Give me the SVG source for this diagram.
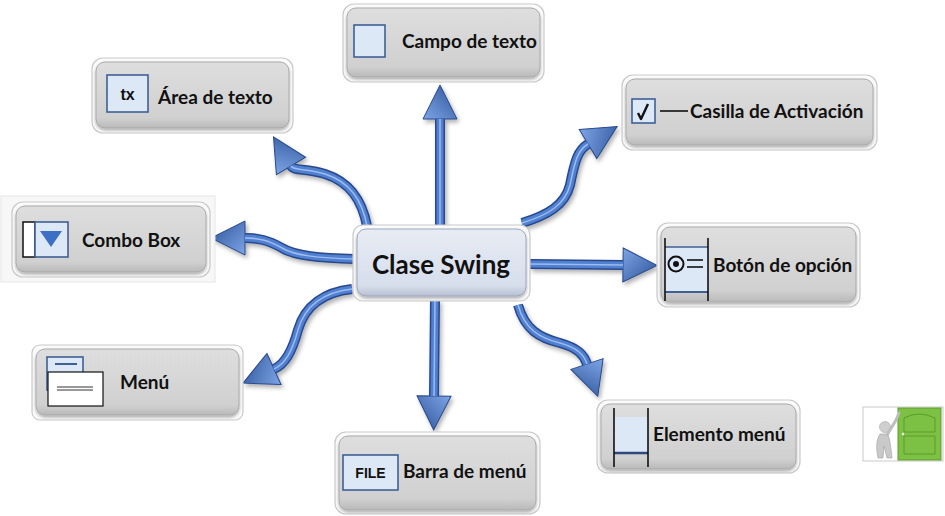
<svg xmlns="http://www.w3.org/2000/svg" xmlns:xlink="http://www.w3.org/1999/xlink" width="945" height="516" viewBox="0 0 945 516">
  <style>
    .frame { fill: #fbfbfb; stroke: #c9c9c9; stroke-width: 1.2; }
    .card { fill: url(#cardGrad); stroke: #a9a9a9; stroke-width: 1; filter: url(#soft); }
    .hub { fill: url(#hubGrad); stroke: #9aa6bb; stroke-width: 1; filter: url(#soft); }
    .label { font-family: Lato, "Open Sans", "Liberation Sans", sans-serif; font-weight: 700; font-size: 19px; fill: #111; }
    .hubLabel { font-family: Lato, "Open Sans", "Liberation Sans", sans-serif; font-weight: 700; font-size: 26px; fill: #111; }
    .ico { fill: #dde8f7; stroke: #3f5f96; stroke-width: 1.6; }
    .icoTxt { font-family: "Liberation Sans", Arial, sans-serif; font-weight: 700; fill: #111; }
    .bar { stroke: #111; stroke-width: 1.6; }
    .edgeOut { fill: none; stroke: #29488a; stroke-width: 10; stroke-linecap: butt; }
    .edgeIn { fill: none; stroke: #4f80d2; stroke-width: 7; stroke-linecap: butt; }
    .edgeHi { fill: none; stroke: #9dbbec; stroke-width: 1.5; stroke-linecap: butt; }
  </style>
  <defs>
    <linearGradient id="cardGrad" x1="0" y1="0" x2="0" y2="1">
      <stop offset="0" stop-color="#dedede"/>
      <stop offset="0.85" stop-color="#d0d0d0"/>
      <stop offset="1" stop-color="#b9b9b9"/>
    </linearGradient>
    <linearGradient id="hubGrad" x1="0" y1="0" x2="0" y2="1">
      <stop offset="0" stop-color="#e8ecf4"/>
      <stop offset="0.85" stop-color="#d6deec"/>
      <stop offset="1" stop-color="#b7c0d2"/>
    </linearGradient>
    <linearGradient id="headGrad" x1="0" y1="0" x2="1" y2="1">
      <stop offset="0" stop-color="#7ea6e6"/>
      <stop offset="1" stop-color="#2b5298"/>
    </linearGradient>
    <filter id="soft" x="-10%" y="-10%" width="120%" height="130%">
      <feDropShadow dx="0" dy="2" stdDeviation="1.5" flood-color="#000" flood-opacity="0.3"/>
    </filter>
    <filter id="edgeShadow" x="-20%" y="-20%" width="140%" height="140%">
      <feDropShadow dx="2" dy="3" stdDeviation="2" flood-color="#000" flood-opacity="0.3"/>
    </filter>
    <marker id="head" markerUnits="userSpaceOnUse" viewBox="-2 -19 40 38" markerWidth="40" markerHeight="38" refX="0" refY="0" orient="auto">
      <path d="M0,-17 L34,0 L0,17 Z" fill="url(#headGrad)" stroke="#29488a" stroke-width="1"/>
    </marker>

    <!-- connector centre-lines, each ending at the base of its arrowhead -->
    <path id="p-campo" d="M440,225 L440,119"/>
    <path id="p-barra" d="M435,300 L434,396"/>
    <path id="p-boton" d="M530,264 L623,265"/>
    <path id="p-combo" d="M355,259 C320,258 295,256 282,248 C268,240 258,238 245,238"/>
    <path id="p-area" d="M367,226 C362,200 350,182 325,174 C305,168 294,171 291,166"/>
    <path id="p-menu" d="M352,289 C325,292 305,305 298,330 C292,352 285,364 274,369"/>
    <path id="p-casilla" d="M522,223 C548,215 565,205 570,185 C575,160 578,150 588,144"/>
    <path id="p-elemento" d="M518,305 C525,330 540,338 560,343 C578,348 584,355 587,364"/>
  </defs>

  <rect width="945" height="516" fill="#ffffff"/>

  <!-- connectors -->
  <g id="connectors" filter="url(#edgeShadow)">
    <g id="e-campo"><use xlink:href="#p-campo" class="edgeOut" marker-end="url(#head)"/><use xlink:href="#p-campo" class="edgeIn"/><use xlink:href="#p-campo" class="edgeHi"/></g>
    <g id="e-barra"><use xlink:href="#p-barra" class="edgeOut" marker-end="url(#head)"/><use xlink:href="#p-barra" class="edgeIn"/><use xlink:href="#p-barra" class="edgeHi"/></g>
    <g id="e-boton"><use xlink:href="#p-boton" class="edgeOut" marker-end="url(#head)"/><use xlink:href="#p-boton" class="edgeIn"/><use xlink:href="#p-boton" class="edgeHi"/></g>
    <g id="e-combo"><use xlink:href="#p-combo" class="edgeOut" marker-end="url(#head)"/><use xlink:href="#p-combo" class="edgeIn"/><use xlink:href="#p-combo" class="edgeHi"/></g>
    <g id="e-area"><use xlink:href="#p-area" class="edgeOut" marker-end="url(#head)"/><use xlink:href="#p-area" class="edgeIn"/><use xlink:href="#p-area" class="edgeHi"/></g>
    <g id="e-menu"><use xlink:href="#p-menu" class="edgeOut" marker-end="url(#head)"/><use xlink:href="#p-menu" class="edgeIn"/><use xlink:href="#p-menu" class="edgeHi"/></g>
    <g id="e-casilla"><use xlink:href="#p-casilla" class="edgeOut" marker-end="url(#head)"/><use xlink:href="#p-casilla" class="edgeIn"/><use xlink:href="#p-casilla" class="edgeHi"/></g>
    <g id="e-elemento"><use xlink:href="#p-elemento" class="edgeOut" marker-end="url(#head)"/><use xlink:href="#p-elemento" class="edgeIn"/><use xlink:href="#p-elemento" class="edgeHi"/></g>
  </g>

  <!-- hub -->
  <g id="clase-swing">
    <rect class="frame" x="353" y="225" width="177" height="76" rx="10"/>
    <rect class="hub" x="357" y="229" width="169" height="67" rx="9"/>
    <text class="hubLabel" x="441" y="274" text-anchor="middle">Clase Swing</text>
  </g>

  <!-- Campo de texto -->
  <g id="campo-texto">
    <rect class="frame" x="343" y="4" width="201" height="78" rx="11"/>
    <rect class="card" x="347" y="8" width="193" height="69" rx="9"/>
    <rect class="ico" x="354" y="25" width="31" height="32"/>
    <text class="label" x="402" y="48">Campo de texto</text>
  </g>

  <!-- Área de texto -->
  <g id="area-texto">
    <rect class="frame" x="92" y="58" width="201" height="75" rx="11"/>
    <rect class="card" x="96" y="62" width="193" height="66" rx="9"/>
    <rect class="ico" x="107" y="75" width="41" height="37"/>
    <text class="icoTxt" x="127.5" y="100" font-size="16" text-anchor="middle">tx</text>
    <text class="label" x="158" y="104">Área de texto</text>
  </g>

  <!-- Casilla de Activación -->
  <g id="casilla">
    <rect class="frame" x="622" y="75" width="255" height="75" rx="11"/>
    <rect class="card" x="626" y="79" width="247" height="66" rx="9"/>
    <rect class="ico" x="632" y="99" width="23" height="24"/>
    <path d="M638,113 L641,119 L648,104" fill="none" stroke="#111" stroke-width="2.4" stroke-linejoin="round"/>
    <line class="bar" x1="660" y1="111" x2="688" y2="111" stroke-width="2.2"/>
    <text class="label" x="690" y="118">Casilla de Activación</text>
  </g>

  <!-- Botón de opción -->
  <g id="boton-opcion">
    <rect class="frame" x="657" y="223" width="203" height="84" rx="11"/>
    <rect class="card" x="661" y="227" width="195" height="75" rx="9"/>
    <rect x="665" y="247" width="43" height="45" fill="#dde8f7"/>
    <line x1="665" y1="247" x2="708" y2="247" stroke="#3f5f96" stroke-width="1.4"/>
    <line x1="665" y1="292" x2="708" y2="292" stroke="#3f5f96" stroke-width="2"/>
    <line class="bar" x1="665" y1="238" x2="665" y2="301"/>
    <line class="bar" x1="708" y1="238" x2="708" y2="301"/>
    <circle cx="676" cy="264" r="7.5" fill="none" stroke="#111" stroke-width="2"/>
    <circle cx="676" cy="264" r="3" fill="#111"/>
    <line class="bar" x1="687" y1="260" x2="703" y2="260"/>
    <line class="bar" x1="687" y1="267" x2="703" y2="267"/>
    <text class="label" x="713" y="272">Botón de opción</text>
  </g>

  <!-- Combo Box -->
  <g id="combo-box">
    <rect x="1" y="196" width="214" height="86" fill="#f7f7f7" stroke="#e6e6e6"/>
    <rect class="frame" x="12" y="202" width="198" height="75" rx="11"/>
    <rect class="card" x="16" y="206" width="190" height="66" rx="9"/>
    <rect x="23" y="222" width="12" height="35" fill="#ffffff" stroke="#111" stroke-width="1.5"/>
    <rect class="ico" x="35" y="222" width="33" height="35"/>
    <path d="M40,231 L62,231 L51,247 Z" fill="#3d6fc4"/>
    <text class="label" x="82" y="247">Combo Box</text>
  </g>

  <!-- Menú -->
  <g id="menu">
    <rect class="frame" x="32" y="345" width="211" height="75" rx="8"/>
    <rect class="card" x="36" y="349" width="203" height="66" rx="9"/>
    <rect class="ico" x="47" y="357" width="36" height="33"/>
    <line x1="55" y1="364" x2="77" y2="364" stroke="#3f5f96" stroke-width="2"/>
    <rect x="48" y="372" width="55" height="34" fill="#ffffff" stroke="#111" stroke-width="1.2"/>
    <line x1="57" y1="387" x2="93" y2="387" stroke="#333" stroke-width="1"/>
    <line x1="57" y1="390" x2="93" y2="390" stroke="#333" stroke-width="1"/>
    <text class="label" x="120" y="389">Menú</text>
  </g>

  <!-- Barra de menú -->
  <g id="barra-menu">
    <rect class="frame" x="335" y="432" width="205" height="82" rx="11"/>
    <rect class="card" x="339" y="436" width="197" height="74" rx="9"/>
    <rect class="ico" x="343" y="455" width="55" height="35"/>
    <text class="icoTxt" x="370.5" y="478" font-size="14" text-anchor="middle">FILE</text>
    <text class="label" x="403" y="478">Barra de menú</text>
  </g>

  <!-- Elemento menú -->
  <g id="elemento-menu">
    <rect class="frame" x="597" y="400" width="203" height="73" rx="11"/>
    <rect class="card" x="601" y="404" width="195" height="65" rx="9"/>
    <rect x="614" y="417" width="34" height="36" fill="#dde8f7"/>
    <line x1="614" y1="453" x2="648" y2="453" stroke="#2f4a7a" stroke-width="2.5"/>
    <line class="bar" x1="614" y1="408" x2="614" y2="467"/>
    <line class="bar" x1="648" y1="408" x2="648" y2="467"/>
    <text class="label" x="653" y="441">Elemento menú</text>
  </g>

  <!-- exit door button -->
  <g id="salida">
    <rect x="863" y="407" width="80" height="54" fill="#ffffff" stroke="#c9c9c9" stroke-width="1"/>
    <rect x="898" y="408" width="43" height="52" fill="#7cc143" stroke="#5e9a2e" stroke-width="1"/>
    <path d="M904,418 Q919,410 935,418 L935,432 L904,432 Z M904,436 L935,436 L935,454 L904,454 Z" fill="none" stroke="#5e9a2e" stroke-width="1"/>
    <circle cx="903" cy="434" r="1.3" fill="#e8e8e8"/>
    <!-- leaning figure -->
    <circle cx="885" cy="427" r="5.5" fill="#cfcfcf" stroke="#a8a8a8" stroke-width="0.6"/>
    <path d="M880,434 C876,440 876,448 878,458 L883,458 L884,446 L887,458 L892,458 C891,448 890,440 888,434 Z" fill="#c9c9c9" stroke="#a0a0a0" stroke-width="0.6"/>
    <path d="M887,435 L896,420 L899,413" fill="none" stroke="#bdbdbd" stroke-width="3" stroke-linecap="round"/>
  </g>
</svg>
